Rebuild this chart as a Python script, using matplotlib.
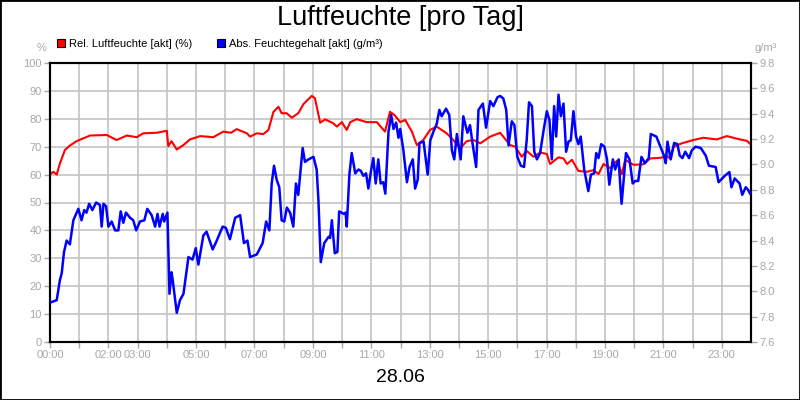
import matplotlib
matplotlib.use("Agg")
import matplotlib.pyplot as plt
from matplotlib.lines import Line2D
from matplotlib.patches import Rectangle

plt.rcParams['font.family'] = ['Liberation Sans', 'DejaVu Sans']

# relative humidity (%), time in hours
rel_h = [0, 0.12, 0.23, 0.34, 0.51, 0.68, 0.91, 1.14, 1.37, 1.94, 2.28, 2.63, 2.97, 3.19,
         3.65, 4.0, 4.05, 4.16, 4.34, 4.57, 4.79, 5.14, 5.59, 5.93, 6.2, 6.39, 6.74, 6.85,
         7.08, 7.3, 7.48, 7.65, 7.82, 7.93, 8.1, 8.28, 8.5, 8.68, 8.96, 9.07, 9.25, 9.42,
         9.7, 9.82, 9.99, 10.16, 10.28, 10.5, 10.84, 11.19, 11.47, 11.64, 11.8, 11.99,
         12.16, 12.39, 12.56, 12.78, 13.01, 13.24, 13.41, 13.58, 13.81, 14.04, 14.27,
         14.5, 14.73, 15.07, 15.41, 15.75, 15.93, 16.15, 16.32, 16.55, 16.78, 17.01,
         17.12, 17.41, 17.58, 17.7, 17.87, 18.09, 18.38, 18.61, 18.78, 18.95, 19.18,
         19.41, 19.58, 19.69, 19.98, 20.32, 20.55, 20.89, 21.12, 21.23, 21.35, 21.63,
         22.03, 22.37, 22.83, 23.17, 23.63, 23.86, 23.97]
rel_v = [60.1, 61, 60, 64, 68.8, 70.4, 72, 73, 74, 74.2, 72.4, 74, 73.4, 74.8,
         75, 75.7, 70.2, 72, 69, 70.6, 72.6, 73.8, 73.4, 75.4, 75, 76.3, 74.8, 73.6,
         74.8, 74.5, 76, 82.5, 84.3, 82, 82, 80.4, 82, 85.3, 88.2, 87.4, 78.6, 79.8,
         78.4, 77.2, 78.8, 76, 78.8, 79.9, 78.8, 78.8, 75.4, 82.5, 81.3, 78.8,
         79.6, 75.4, 70.6, 72.4, 76, 77.2, 76, 74.8, 72.4, 69.4, 72,
         72.4, 71.2, 73.6, 75, 70.6, 70, 66.4, 68.5, 66.4, 67.9, 67.4,
         63.8, 66.2, 65.8, 63.8, 65.3, 61.3, 61, 61.6, 60.2, 63.8, 62.3,
         65, 60.2, 65.3, 63.5, 63.7, 65.8, 66, 66.6, 65.8, 70, 71.2,
         72.4, 73.2, 72.6, 73.8, 72.6, 72.1, 71]

# absolute humidity (g/m3)
abs_h = [0, 0.23, 0.34, 0.4, 0.48, 0.57, 0.68, 0.8, 0.97, 1.08, 1.17, 1.25, 1.34, 1.45,
         1.58, 1.71, 1.77, 1.83, 1.92, 2.0, 2.11, 2.23, 2.34, 2.42, 2.51, 2.6, 2.74, 2.85,
         2.95, 3.08, 3.23, 3.33, 3.48, 3.6, 3.68, 3.75, 3.86, 3.91, 4.02, 4.09, 4.16, 4.2,
         4.34, 4.45, 4.57, 4.74, 4.88, 4.99, 5.08, 5.25, 5.36, 5.57, 5.71, 5.91, 6.02,
         6.16, 6.34, 6.51, 6.64, 6.76, 6.85, 7.08, 7.28, 7.4, 7.51, 7.59, 7.67, 7.76,
         7.85, 7.93, 8.02, 8.11, 8.22, 8.33, 8.42, 8.5, 8.65, 8.73, 8.85, 9.02, 9.13,
         9.19, 9.27, 9.39, 9.54, 9.59, 9.65, 9.75, 9.84, 9.9, 10.06, 10.12, 10.16,
         10.25, 10.33, 10.45, 10.56, 10.64, 10.73, 10.82, 10.9, 10.99, 11.07, 11.15,
         11.24, 11.32, 11.41, 11.48, 11.59, 11.68, 11.76, 11.85, 11.93, 11.99, 12.1,
         12.22, 12.31, 12.42, 12.5, 12.59, 12.65, 12.79, 12.93, 13.02, 13.13, 13.24,
         13.33, 13.41, 13.56, 13.67, 13.76, 13.84, 13.93, 14.06, 14.15, 14.29, 14.38,
         14.47, 14.59, 14.67, 14.82, 14.93, 15.07, 15.18, 15.32, 15.41, 15.52, 15.62,
         15.7, 15.81, 15.9, 16.0, 16.12, 16.23, 16.32, 16.4, 16.5, 16.58, 16.67, 16.78,
         16.9, 17.01, 17.1, 17.18, 17.26, 17.33, 17.41, 17.49, 17.58, 17.67, 17.75,
         17.83, 17.92, 18.01, 18.09, 18.17, 18.29, 18.43, 18.52, 18.63, 18.7, 18.78,
         18.87, 18.98, 19.07, 19.15, 19.27, 19.35, 19.47, 19.52, 19.57, 19.72, 19.84,
         19.95, 20.04, 20.14, 20.25, 20.37, 20.5, 20.57, 20.76, 20.9, 21.02, 21.08,
         21.14, 21.25, 21.37, 21.48, 21.56, 21.65, 21.75, 21.88, 21.97, 22.1, 22.28,
         22.45, 22.56, 22.79, 22.89, 23.1, 23.26, 23.33, 23.44, 23.61, 23.7, 23.82,
         23.9, 23.97]
abs_v = [7.91, 7.93, 8.09, 8.14, 8.31, 8.40, 8.37, 8.56, 8.65, 8.56, 8.64, 8.62, 8.69, 8.64,
         8.70, 8.68, 8.51, 8.69, 8.67, 8.51, 8.55, 8.48, 8.48, 8.63, 8.54, 8.62, 8.58, 8.56,
         8.48, 8.55, 8.56, 8.65, 8.60, 8.51, 8.61, 8.51, 8.61, 8.55, 8.62, 7.98, 8.15, 8.09,
         7.83, 7.93, 7.98, 8.27, 8.25, 8.34, 8.21, 8.44, 8.47, 8.33, 8.40, 8.51, 8.50,
         8.41, 8.58, 8.60, 8.38, 8.40, 8.27, 8.29, 8.38, 8.55, 8.48, 8.85, 8.99, 8.88,
         8.82, 8.56, 8.55, 8.66, 8.62, 8.51, 8.85, 8.76, 9.13, 9.02, 9.04, 9.06, 8.96,
         8.72, 8.23, 8.38, 8.43, 8.42, 8.56, 8.30, 8.31, 8.63, 8.61, 8.62, 8.51,
         8.92, 9.09, 8.93, 8.96, 8.95, 8.91, 8.93, 8.81, 8.95, 9.05, 8.85,
         9.04, 8.85, 8.86, 8.77, 9.26, 9.39, 9.28, 9.33, 9.21, 9.28, 9.11,
         8.86, 8.98, 9.04, 8.81, 8.88, 9.17, 9.18, 8.92, 9.19, 9.26, 9.32,
         9.43, 9.38, 9.44, 9.39, 9.11, 9.04, 9.24, 9.04, 9.38, 9.25, 9.31,
         9.16, 8.98, 9.43, 9.48, 9.29, 9.50, 9.46, 9.53, 9.54, 9.52, 9.43,
         9.15, 9.34, 9.31, 9.06, 8.99, 8.98, 9.19, 9.49, 9.46, 9.10, 9.04, 9.09,
         9.27, 9.42, 9.35, 9.04, 9.46, 9.22, 9.55, 9.38, 9.48, 9.10, 9.18,
         9.19, 9.42, 9.22, 9.16, 9.22, 8.96, 8.79, 8.92, 8.93, 9.09, 9.05,
         9.16, 9.14, 9.04, 8.84, 9.04, 8.96, 9.04, 8.85, 8.69, 9.09, 9.04,
         8.85, 8.87, 8.87, 9.06, 9.01, 9.05, 9.24, 9.22, 9.14, 9.07, 9.01,
         9.18, 9.04, 9.17, 9.16, 9.07, 9.05, 9.10, 9.05, 9.11, 9.14, 9.13,
         9.07, 8.99, 8.98, 8.86, 8.91, 8.94, 8.82, 8.89, 8.85, 8.76, 8.82,
         8.80, 8.77]

x_ticks = list(range(24))
x_labels = {0: "00:00", 2: "02:00", 3: "03:00", 5: "05:00", 7: "07:00", 9: "09:00",
            11: "11:00", 13: "13:00", 15: "15:00", 17: "17:00", 19: "19:00",
            21: "21:00", 23: "23:00"}
left_ticks = list(range(0, 101, 10))
right_ticks = [7.6, 7.8, 8.0, 8.2, 8.4, 8.6, 8.8, 9.0, 9.2, 9.4, 9.6, 9.8]

gray = "#a8a8a8"
gridc = "#c4c4c4"

fig = plt.figure(figsize=(8, 4), dpi=100)
ax = fig.add_axes([50/800, 58/400, 701/800, 279/400])
ax2 = ax.twinx()

ax.set_xlim(0, 24)
ax.set_ylim(0, 100)
ax2.set_ylim(7.6, 9.8)

ax.set_xticks(x_ticks)
ax.set_xticklabels([x_labels.get(t, "") for t in x_ticks])
ax.set_yticks(left_ticks)
ax2.set_yticks(right_ticks)
ax2.set_yticklabels(["%.1f" % t for t in right_ticks])

ax.grid(True, color=gridc, linewidth=1.2)
ax.set_axisbelow(True)
for a in (ax, ax2):
    a.tick_params(colors=gray, labelcolor=gray, labelsize=8, length=4, width=1,
                  direction="out", pad=2)
    for s in a.spines.values():
        s.set_color("black")
        s.set_linewidth(1.5)

ax.plot(rel_h, rel_v, color="#ff0000", linewidth=1.5, zorder=3)
ax2.plot(abs_h, abs_v, color="#0000ff", linewidth=1.8, zorder=3)

fig.text(0.5, 1 - 18/400, "Luftfeuchte [pro Tag]", ha="center", va="center", fontsize=19.5)
fig.text(0.5, 1 - 378/400, "28.06", ha="center", va="center", fontsize=14)
fig.text(42/800, 1 - 48/400, "%", ha="center", va="center", fontsize=8, color=gray)
fig.text(766/800, 1 - 48/400, "g/m³", ha="center", va="center", fontsize=8, color=gray)

handles = [Line2D([], [], linestyle="none", marker="s", markersize=6,
                  markerfacecolor="#ff0000", markeredgecolor="black", markeredgewidth=0.8),
           Line2D([], [], linestyle="none", marker="s", markersize=6,
                  markerfacecolor="#0000ff", markeredgecolor="black", markeredgewidth=0.8)]
fig.legend(handles, ["Rel. Luftfeuchte [akt] (%)", "Abs. Feuchtegehalt [akt] (g/m³)"],
           loc="center left", bbox_to_anchor=(57/800, 1 - 44/400), ncol=2, frameon=False,
           fontsize=8, handlelength=0.8, handletextpad=0.3, columnspacing=2.2,
           borderaxespad=0, borderpad=0)

fig.add_artist(Rectangle((0, 0), 1, 1, transform=fig.transFigure, fill=False,
                         edgecolor="black", linewidth=2))

fig.savefig("out.png", dpi=100)
